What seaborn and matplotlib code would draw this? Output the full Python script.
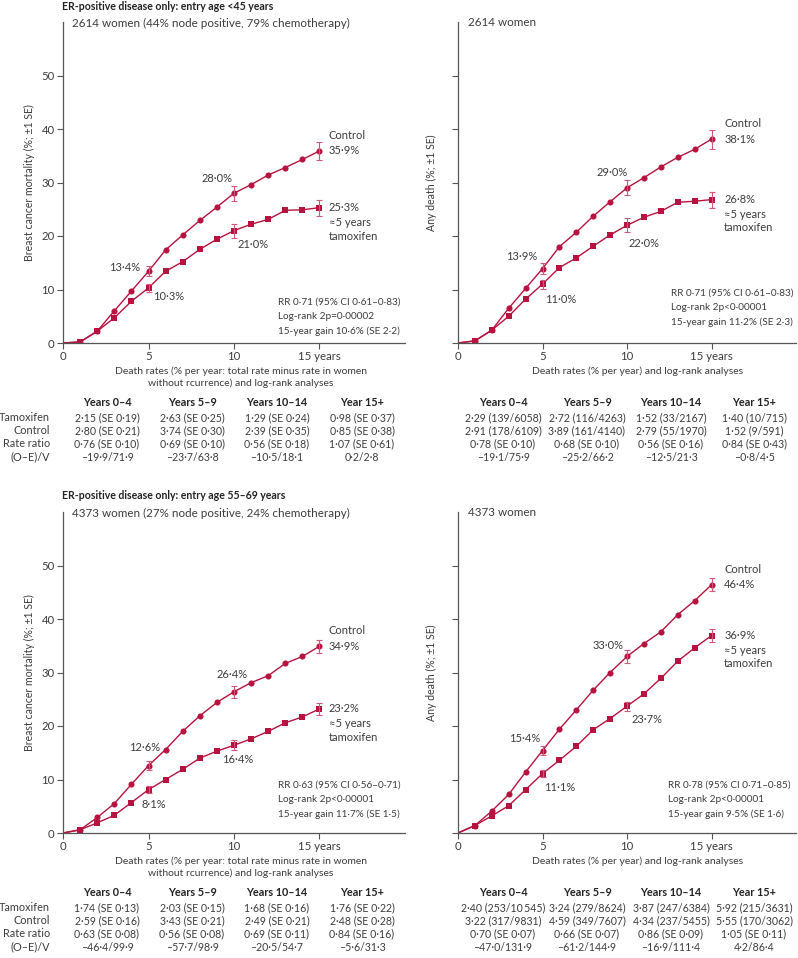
#!/usr/bin/env python3
from __future__ import annotations

import matplotlib
matplotlib.use("Agg")
import matplotlib.pyplot as plt
import pandas as pd
import seaborn as sns


W, H = 798, 958
RED = "#B8123F"
ERR = "#D2577A"
GREY = "#3C3C3C"
FONT = ["Lato", "DejaVu Sans"]

YEARS = list(range(16))
SE_YEARS = [5, 10, 15]

# top-left: breast cancer mortality, age <45
TL_CONTROL = [0, 0.2, 2.2, 6.0, 9.7, 13.4, 17.4, 20.2, 22.9, 25.4, 28.0, 29.6, 31.4, 32.8, 34.3, 35.9]
TL_TAMOX = [0, 0.2, 2.2, 4.7, 7.8, 10.3, 13.4, 15.2, 17.5, 19.4, 21.0, 22.2, 23.1, 24.8, 24.9, 25.3]
TL_CONTROL_SE = [0.9, 1.4, 1.7]
TL_TAMOX_SE = [0.7, 1.3, 1.5]

# top-right: any death, age <45
TR_CONTROL = [0, 0.4, 2.4, 6.5, 10.2, 13.9, 18.0, 20.7, 23.7, 26.4, 29.0, 30.9, 32.9, 34.7, 36.2, 38.1]
TR_TAMOX = [0, 0.4, 2.4, 5.0, 8.2, 11.0, 14.1, 15.9, 18.1, 20.2, 22.0, 23.5, 24.6, 26.3, 26.5, 26.8]
TR_CONTROL_SE = [1.0, 1.4, 1.8]
TR_TAMOX_SE = [0.85, 1.3, 1.5]

# bottom-left: breast cancer mortality, age 55-69
BL_CONTROL = [0, 0.6, 2.9, 5.5, 9.1, 12.6, 15.6, 19.0, 21.9, 24.4, 26.4, 28.1, 29.4, 31.7, 33.0, 34.9]
BL_TAMOX = [0, 0.6, 1.9, 3.3, 5.7, 8.1, 10.0, 11.9, 14.0, 15.3, 16.4, 17.6, 19.0, 20.6, 21.7, 23.2]
BL_CONTROL_SE = [0.85, 1.1, 1.2]
BL_TAMOX_SE = [0.65, 0.95, 1.1]

# bottom-right: any death, age 55-69
BR_CONTROL = [0, 1.4, 4.1, 7.2, 11.4, 15.4, 19.4, 23.0, 26.7, 30.0, 33.0, 35.4, 37.6, 40.8, 43.4, 46.4]
BR_TAMOX = [0, 1.4, 3.2, 5.1, 8.1, 11.1, 13.6, 16.2, 19.3, 21.4, 23.7, 26.0, 28.9, 32.1, 34.6, 36.9]
BR_CONTROL_SE = [0.85, 1.2, 1.2]
BR_TAMOX_SE = [0.7, 0.85, 1.2]

TITLES = [
    "ER-positive disease only: entry age <45 years",
    "ER-positive disease only: entry age 55–69 years",
]
SUBTITLES_LEFT = [
    "2614 women (44% node positive, 79% chemotherapy)",
    "4373 women (27% node positive, 24% chemotherapy)",
]
SUBTITLES_RIGHT = ["2614 women", "4373 women"]

STATS_TL = ["RR 0·71 (95% CI 0·61–0·83)", "Log-rank 2p=0·00002", "15-year gain 10·6% (SE 2·2)"]
STATS_TR = ["RR 0·71 (95% CI 0·61–0·83)", "Log-rank 2p<0·00001", "15-year gain 11·2% (SE 2·3)"]
STATS_BL = ["RR 0·63 (95% CI 0·56–0·71)", "Log-rank 2p<0·00001", "15-year gain 11·7% (SE 1·5)"]
STATS_BR = ["RR 0·78 (95% CI 0·71–0·85)", "Log-rank 2p<0·00001", "15-year gain 9·5% (SE 1·6)"]

XLABEL_LEFT = "Death rates (% per year: total rate minus rate in women\nwithout rcurrence) and log-rank analyses"
XLABEL_RIGHT = "Death rates (% per year) and log-rank analyses"
YLABEL_LEFT = "Breast cancer mortality (%; ±1 SE)"
YLABEL_RIGHT = "Any death (%; ±1 SE)"

TABLE_HEADERS = ["Years 0–4", "Years 5–9", "Years 10–14", "Year 15+"]
ROW_LABELS = ["Tamoxifen", "Control", "Rate ratio", "(O–E)/V"]

TABLE_TL = [
    ["2·15 (SE 0·19)", "2·63 (SE 0·25)", "1·29 (SE 0·24)", "0·98 (SE 0·37)"],
    ["2·80 (SE 0·21)", "3·74 (SE 0·30)", "2·39 (SE 0·35)", "0·85 (SE 0·38)"],
    ["0·76 (SE 0·10)", "0·69 (SE 0·10)", "0·56 (SE 0·18)", "1·07 (SE 0·61)"],
    ["–19·9/71·9", "–23·7/63·8", "–10·5/18·1", "0·2/2·8"],
]
TABLE_TR = [
    ["2·29 (139/6058)", "2·72 (116/4263)", "1·52 (33/2167)", "1·40 (10/715)"],
    ["2·91 (178/6109)", "3·89 (161/4140)", "2·79 (55/1970)", "1·52 (9/591)"],
    ["0·78 (SE 0·10)", "0·68 (SE 0·10)", "0·56 (SE 0·16)", "0·84 (SE 0·43)"],
    ["–19·1/75·9", "–25·2/66·2", "–12·5/21·3", "–0·8/4·5"],
]
TABLE_BL = [
    ["1·74 (SE 0·13)", "2·03 (SE 0·15)", "1·68 (SE 0·16)", "1·76 (SE 0·22)"],
    ["2·59 (SE 0·16)", "3·43 (SE 0·21)", "2·49 (SE 0·21)", "2·48 (SE 0·28)"],
    ["0·63 (SE 0·08)", "0·56 (SE 0·08)", "0·69 (SE 0·11)", "0·84 (SE 0·16)"],
    ["–46·4/99·9", "–57·7/98·9", "–20·5/54·7", "–5·6/31·3"],
]
TABLE_BR = [
    ["2·40 (253/10\u2009545)", "3·24 (279/8624)", "3·87 (247/6384)", "5·92 (215/3631)"],
    ["3·22 (317/9831)", "4·59 (349/7607)", "4·34 (237/5455)", "5·55 (170/3062)"],
    ["0·70 (SE 0·07)", "0·66 (SE 0·07)", "0·86 (SE 0·09)", "1·05 (SE 0·11)"],
    ["–47·0/131·9", "–61·2/144·9", "–16·9/111·4", "4·2/86·4"],
]


def _fx(x: float) -> float:
    return x / W


def _fy(y: float) -> float:
    return 1 - y / H


def _pct(v: float) -> str:
    return f"{v:.1f}%".replace(".", "·")


def _apply_style() -> None:
    sns.set_theme(style="white", context="paper")
    plt.rcParams.update(
        {
            "font.family": FONT,
            "font.size": 8,
            "axes.edgecolor": "#555555",
            "axes.linewidth": 0.9,
            "text.color": GREY,
            "axes.labelcolor": GREY,
            "xtick.color": GREY,
            "ytick.color": GREY,
            "xtick.labelsize": 8.2,
            "ytick.labelsize": 8.2,
        }
    )


def draw_panel(fig, rect, control, tamox, control_se, tamox_se, cfg, show_yticks):
    ax = fig.add_axes(rect)
    df = pd.DataFrame(
        {
            "year": YEARS * 2,
            "value": control + tamox,
            "group": ["Control"] * len(YEARS) + ["Tamoxifen"] * len(YEARS),
        }
    )
    sns.lineplot(
        data=df, x="year", y="value", hue="group", style="group",
        markers={"Control": "o", "Tamoxifen": "s"}, dashes=False,
        palette={"Control": RED, "Tamoxifen": RED},
        linewidth=1.0, markersize=4.4, markeredgewidth=0,
        markevery=list(range(1, len(YEARS))), legend=False, ax=ax,
    )
    c_at = [control[YEARS.index(y)] for y in SE_YEARS]
    t_at = [tamox[YEARS.index(y)] for y in SE_YEARS]
    for vals, se in ((c_at, control_se), (t_at, tamox_se)):
        ax.errorbar(SE_YEARS, vals, yerr=se, fmt="none", ecolor=ERR,
                    elinewidth=0.8, capsize=2.2, capthick=0.8)

    ax.set_xlim(0, 20)
    ax.set_ylim(0, 60)
    ax.set_xticks([0, 5, 10, 15])
    ax.set_xticklabels(["0", "5", "10", "15 years"])
    ax.set_yticks([0, 10, 20, 30, 40, 50])
    if not show_yticks:
        ax.set_yticklabels([])
    ax.tick_params(axis="both", length=4, width=0.8, color="#555555", pad=2, direction="out")
    ax.tick_params(axis="x", bottom=True)
    ax.tick_params(axis="y", left=True)
    sns.despine(ax=ax)

    ax.set_xlabel(cfg["xlabel"], fontsize=7.5, linespacing=1.35)
    ax.xaxis.set_label_coords(cfg["xlabel_x"], -0.072)
    ax.set_ylabel(cfg["ylabel"], fontsize=7.6)
    ax.yaxis.set_label_coords(cfg["ylabel_x"], 0.5)

    # value call-outs at years 5 and 10
    (c5x, c5y), (c10x, c10y), (t5x, t5y), (t10x, t10y) = cfg["callouts"]
    ax.text(c5x, c5y, _pct(control[5]), ha="center", va="center")
    ax.text(c10x, c10y, _pct(control[10]), ha="center", va="center")
    ax.text(t5x, t5y, _pct(tamox[5]), ha="center", va="center")
    ax.text(t10x, t10y, _pct(tamox[10]), ha="center", va="center")

    # end labels
    ex = cfg["end_x"]
    ax.text(ex, control[-1] + 2.9, "Control", ha="left", va="center")
    ax.text(ex, control[-1], _pct(control[-1]), ha="left", va="center")
    ax.text(ex, tamox[-1], _pct(tamox[-1]), ha="left", va="center")
    ax.text(ex, tamox[-1] - 2.7, "≈5 years", ha="left", va="center")
    ax.text(ex, tamox[-1] - 5.3, "tamoxifen", ha="left", va="center")

    for i, line in enumerate(cfg["stats"]):
        ax.text(cfg["stats_x"], cfg["stats_y"] - i * 2.7, line, ha="left", va="center",
                fontsize=7.2, clip_on=False)
    return ax


def draw_table(fig, rows, col_x, y0, row_labels):
    for x, head in zip(col_x, TABLE_HEADERS):
        fig.text(_fx(x), _fy(y0), head, ha="center", va="center", fontsize=7.8,
                 fontweight="bold", color="#222222")
    for r, row in enumerate(rows):
        y = y0 + 14.5 + r * 13.2
        if row_labels:
            fig.text(_fx(50), _fy(y), ROW_LABELS[r], ha="right", va="center", fontsize=7.8)
        for x, cell in zip(col_x, row):
            fig.text(_fx(x), _fy(y), cell, ha="center", va="center", fontsize=7.6)


def main() -> int:
    _apply_style()
    fig = plt.figure(figsize=(W / 100, H / 100), dpi=100)

    ax_h = 321 / H
    left_rect = lambda top: [_fx(63), _fy(top + 321), 342 / W, ax_h]
    right_rect = lambda top: [_fx(458), _fy(top + 321), 338 / W, ax_h]

    draw_panel(
        fig, left_rect(22), TL_CONTROL, TL_TAMOX, TL_CONTROL_SE, TL_TAMOX_SE,
        {
            "xlabel": XLABEL_LEFT, "xlabel_x": 0.52, "ylabel": YLABEL_LEFT, "ylabel_x": -0.082,
            "callouts": [(3.6, 14.1), (9.0, 30.7), (6.15, 8.6), (11.1, 18.4)],
            "end_x": 15.55, "stats": STATS_TL, "stats_x": 12.55, "stats_y": 7.6,
        },
        True,
    )
    draw_panel(
        fig, right_rect(22), TR_CONTROL, TR_TAMOX, TR_CONTROL_SE, TR_TAMOX_SE,
        {
            "xlabel": XLABEL_RIGHT, "xlabel_x": 0.53, "ylabel": YLABEL_RIGHT, "ylabel_x": -0.062,
            "callouts": [(3.75, 16.2), (9.1, 31.8), (6.1, 8.2), (11.0, 18.6)],
            "end_x": 15.75, "stats": STATS_TR, "stats_x": 12.6, "stats_y": 9.3,
        },
        False,
    )
    draw_panel(
        fig, left_rect(512), BL_CONTROL, BL_TAMOX, BL_CONTROL_SE, BL_TAMOX_SE,
        {
            "xlabel": XLABEL_LEFT, "xlabel_x": 0.52, "ylabel": YLABEL_LEFT, "ylabel_x": -0.082,
            "callouts": [(4.8, 15.9), (9.9, 29.6), (5.3, 5.4), (10.2, 13.7)],
            "end_x": 15.55, "stats": STATS_BL, "stats_x": 12.55, "stats_y": 8.9,
        },
        True,
    )
    draw_panel(
        fig, right_rect(512), BR_CONTROL, BR_TAMOX, BR_CONTROL_SE, BR_TAMOX_SE,
        {
            "xlabel": XLABEL_RIGHT, "xlabel_x": 0.53, "ylabel": YLABEL_RIGHT, "ylabel_x": -0.062,
            "callouts": [(3.95, 17.6), (8.9, 35.0), (6.0, 8.5), (11.2, 21.3)],
            "end_x": 15.75, "stats": STATS_BR, "stats_x": 12.4, "stats_y": 8.9,
        },
        False,
    )

    for i, top in enumerate([22, 512]):
        fig.text(_fx(62), _fy(top - 16), TITLES[i], ha="left", va="center", fontsize=7.6,
                 fontweight="bold", color="#222222")
        fig.text(_fx(72), _fy(top + 1), SUBTITLES_LEFT[i], ha="left", va="center", fontsize=8.4)
        fig.text(_fx(468), _fy(top + 1), SUBTITLES_RIGHT[i], ha="left", va="center", fontsize=8.4)

    left_cols = [107, 192, 277, 362]
    right_cols = [503, 587, 671, 754]
    draw_table(fig, TABLE_TL, left_cols, 403, True)
    draw_table(fig, TABLE_TR, right_cols, 403, False)
    draw_table(fig, TABLE_BL, left_cols, 893, True)
    draw_table(fig, TABLE_BR, right_cols, 893, False)

    fig.savefig("out.png", dpi=100)
    plt.close(fig)
    return 0


if __name__ == "__main__":
    raise SystemExit(main())
